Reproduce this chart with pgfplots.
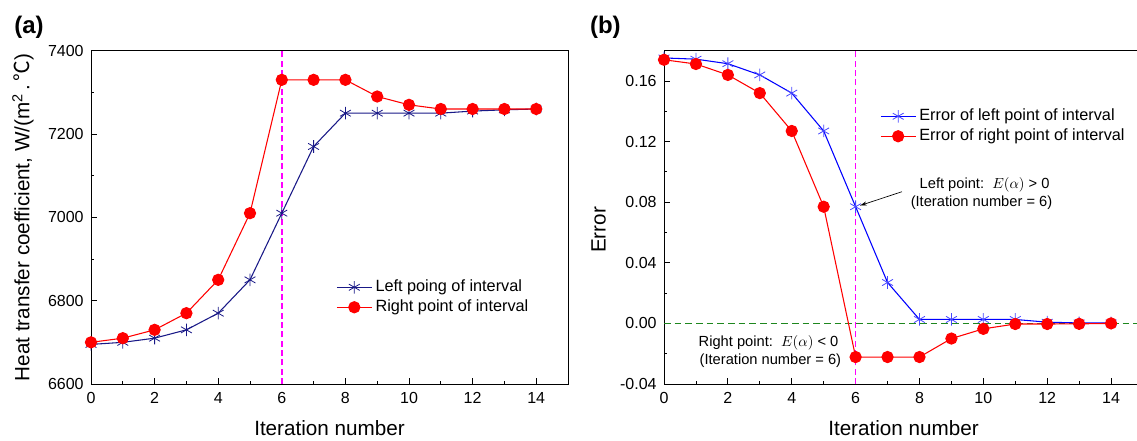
\documentclass[border=0pt]{standalone}
\usepackage{pgfplots}
\pgfplotsset{compat=1.18}
\usepackage{fontspec}
\setmainfont{Liberation Sans}
\newfontfamily\cjk{Noto Sans CJK SC}
\usetikzlibrary{arrows.meta}

\definecolor{navyline}{RGB}{25,25,135}
\definecolor{redline}{RGB}{255,0,0}
\definecolor{blueline}{RGB}{0,0,255}
\definecolor{bluemark}{RGB}{70,70,255}
\definecolor{zerogreen}{RGB}{30,135,30}
\definecolor{guidemag}{RGB}{255,0,255}

% Iteration history: interval end points (panel a) and their errors (panel b)
\pgfplotstableread{
it  left  right
0   6695  6700
1   6700  6710
2   6710  6730
3   6730  6770
4   6770  6850
5   6850  7010
6   7010  7330
7   7170  7330
8   7250  7330
9   7250  7290
10  7250  7270
11  7250  7260
12  7255  7260
13  7258  7260
14  7260  7260
}\htcdata

\pgfplotstableread{
it  eleft    eright
0   0.1752   0.1740
1   0.1744   0.1712
2   0.1714   0.1640
3   0.1640   0.1520
4   0.1520   0.1270
5   0.1270   0.0770
6   0.0770  -0.0222
7   0.0270  -0.0222
8   0.0026  -0.0222
9   0.0026  -0.0100
10  0.0026  -0.0036
11  0.0026  -0.0004
12  0.0008  -0.0004
13  0.0003  -0.0003
14  0.0003   0.0000
}\errdata

\pgfplotsset{
  panel/.style={
    scale only axis,
    xmin=0, xmax=15,
    xtick={0,2,...,14}, minor x tick num=1,
    minor y tick num=1,
    tick align=inside, tick pos=left,
    major tick length=4.5pt, minor tick length=2.5pt,
    every tick/.style={black, line width=0.6pt},
    axis line style={line width=0.75pt},
    tick label style={font=\fontsize{12}{14}\selectfont},
    /pgf/number format/assume math mode=true,
    /pgf/number format/1000 sep={},
    scaled y ticks=false,
    xticklabel style={yshift=-3pt},
    yticklabel style={xshift=-2pt},
    label style={font=\fontsize{15.5}{18}\selectfont},
    xlabel={Iteration number},
    xlabel style={at={(axis description cs:0.5,-0.132)}, anchor=center},
    legend cell align=left,
    legend image code/.code={%
      \draw[mark repeat=2,mark phase=2,##1]
        plot coordinates {(0pt,0pt) (13pt,0pt) (26pt,0pt)};},
    legend style={draw=none, fill=none, inner sep=0pt, row sep=0pt,
      font=\fontsize{12.2}{14}\selectfont,
      nodes={inner ysep=1.5pt, inner xsep=2.5pt, text height=9pt, text depth=3pt}},
  },
  leftser/.style={line width=0.8pt, mark=asterisk, mark size=4.7pt,
    mark options={solid, line width=0.6pt}},
  rightser/.style={line width=0.8pt, color=redline, mark=*, mark size=4.2pt,
    mark options={solid, fill=redline}},
}

\begin{document}
\begin{tikzpicture}
\path[use as bounding box] (0pt,0pt) rectangle (852.75pt,330pt);

% (a) heat transfer coefficient bounds
\begin{axis}[panel,
  at={(68.25pt,42pt)}, anchor=south west,
  width=357.75pt, height=250pt,
  ymin=6600, ymax=7400, ytick={6600,6800,...,7400},
  ylabel={Heat transfer coefficient, W/(m\textsuperscript{2}\,.\,{\cjk ℃})},
  ylabel style={at={(axis description cs:-0.1426,0.5)}, anchor=center},
  legend style={at={(axis description cs:0.514,0.321)}, anchor=north west},
]
\addplot[draw={rgb,255:red,255;green,0;blue,255}, line width=1.1pt,
  dash pattern=on 4.5pt off 2.5pt, forget plot] coordinates {(6,6600) (6,7400)};
\addplot[leftser, color=navyline] table[x=it, y=left] {\htcdata};
\addlegendentry{Left poing of interval}
\addplot[rightser] table[x=it, y=right] {\htcdata};
\addlegendentry{Right point of interval}
\end{axis}

% (b) error of the interval end points; the zero line and the
% iteration-6 line are grid lines of two extra ticks
\begin{axis}[panel,
  at={(498pt,42pt)}, anchor=south west,
  width=359.25pt, height=250pt,
  ymin=-0.04, ymax=0.18, ytick={-0.04,0,0.04,0.08,0.12,0.16},
  yticklabel style={/pgf/number format/.cd, fixed, fixed zerofill, precision=2},
  ylabel={Error},
  ylabel style={at={(axis description cs:-0.1363,0.462)}, anchor=center},
  legend style={at={(axis description cs:0.451,0.834)}, anchor=north west},
  extra x ticks={6}, extra x tick labels={},
  extra x tick style={grid=major, major tick length=0pt,
    major grid style={draw=guidemag, line width=1.1pt, dash pattern=on 4.5pt off 2.5pt}},
  extra y ticks={0}, extra y tick labels={},
  extra y tick style={grid=major, major tick length=0pt,
    major grid style={draw=zerogreen, line width=1.1pt, dash pattern=on 5pt off 3pt}},
]
\addplot[leftser, color=blueline, mark options={solid, line width=0.6pt, draw=bluemark}]
  table[x=it, y=eleft] {\errdata};
\addlegendentry{Error of left point of interval}
\addplot[rightser] table[x=it, y=eright] {\errdata};
\addlegendentry{Error of right point of interval}

\node[anchor=west, font=\fontsize{11}{13}\selectfont] at (axis cs:7.86,0.0916)
  {Left point:\ \ $E(\alpha)$ > 0};
\node[anchor=west, font=\fontsize{11}{13}\selectfont] at (axis cs:7.58,0.0795)
  {(Iteration number = 6)};
\draw[-{Stealth[length=5pt,width=3pt]}, line width=0.5pt]
  (axis cs:7.45,0.0869) -- (axis cs:6.14,0.0778);
\node[anchor=west, font=\fontsize{11}{13}\selectfont] at (axis cs:0.94,-0.0127)
  {Right point:\ \ $E(\alpha)$ < 0};
\node[anchor=west, font=\fontsize{11}{13}\selectfont] at (axis cs:0.97,-0.0248)
  {(Iteration number = 6)};
\end{axis}

\node[font=\bfseries\fontsize{18}{20}\selectfont] at (21.75pt,309.75pt) {(a)};
\node[font=\bfseries\fontsize{18}{20}\selectfont] at (454pt,309.75pt) {(b)};
\end{tikzpicture}
\end{document}
